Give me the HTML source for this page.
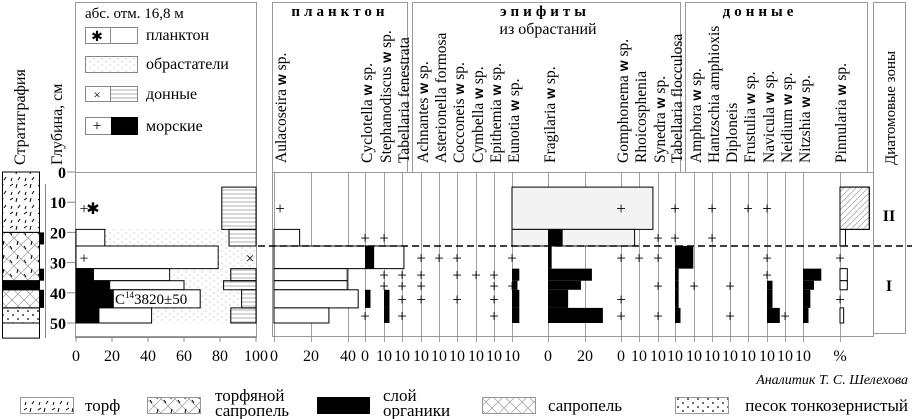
<!DOCTYPE html>
<html><head><meta charset="utf-8"><style>
html,body{margin:0;padding:0;background:#fff;}
svg{display:block;}
.g{stroke:#999;stroke-width:1;fill:none}
</style></head><body>
<svg id="chart" width="912" height="419" viewBox="0 0 912 419" xmlns="http://www.w3.org/2000/svg" font-family="Liberation Serif, serif">
<defs>
<pattern id="peat" width="14" height="14" patternUnits="userSpaceOnUse"><path d="M3 2l-1 4M10 4l3-2M6 9l-2 3M12 10l-1 3" stroke="#000" stroke-width="1"/></pattern>
<pattern id="cross" width="12" height="12" patternUnits="userSpaceOnUse"><path d="M0 0L12 12M12 0L0 12" stroke="#999" stroke-width="0.7"/></pattern>
<pattern id="peatsap" width="14" height="14" patternUnits="userSpaceOnUse"><path d="M0 0L14 14M14 0L0 14" stroke="#999" stroke-width="0.7"/><path d="M4 3l-1 4M10 8l2 3" stroke="#000" stroke-width="1"/></pattern>
<pattern id="sand" width="10" height="8" patternUnits="userSpaceOnUse"><circle cx="3" cy="3" r="0.9" fill="#000"/><circle cx="8" cy="7" r="0.9" fill="#000"/></pattern>
<pattern id="dots" width="8" height="6" patternUnits="userSpaceOnUse"><circle cx="2" cy="2" r="0.6" fill="#aaa"/><circle cx="6" cy="5" r="0.6" fill="#aaa"/></pattern>
<pattern id="hl" width="4" height="4" patternUnits="userSpaceOnUse"><path d="M0 2H4" stroke="#888" stroke-width="0.7"/></pattern>
<pattern id="diag" width="6" height="6" patternUnits="userSpaceOnUse"><path d="M0 6L6 0" stroke="#aaa" stroke-width="0.8"/></pattern>
</defs>

<text transform="translate(25,165) rotate(-90)" font-size="16">Стратиграфия</text>
<text transform="translate(62,165) rotate(-90)" font-size="16">Глубина, см</text>

<rect x="75.5" y="2.5" width="181" height="334" class="g"/>
<line x1="75" y1="172.5" x2="257" y2="172.5" class="g"/>
<text x="85" y="18" font-size="15">абс. отм. 16,8 м</text>
<g>
<rect x="85.5" y="27.5" width="52" height="16" fill="#fff" stroke="#888"/><line x1="110.5" y1="27" x2="110.5" y2="44" stroke="#888"/><text x="97" y="41" font-size="14" text-anchor="middle">✱</text>
<text x="146" y="40" font-size="16">планктон</text>
<rect x="85.5" y="56.5" width="52" height="16" fill="url(#dots)" stroke="#888"/>
<text x="146" y="69" font-size="16">обрастатели</text>
<rect x="85.5" y="86.5" width="52" height="15" fill="#fff" stroke="#888"/><rect x="110.5" y="86.5" width="27" height="15" fill="url(#hl)" stroke="#888"/><text x="97" y="99" font-size="13" text-anchor="middle">×</text>
<text x="146" y="99" font-size="16">донные</text>
<rect x="85.5" y="117.5" width="52" height="17" fill="#fff" stroke="#888"/><rect x="111" y="117" width="27" height="18" fill="#000"/><text x="97" y="131" font-size="16" text-anchor="middle">+</text>
<text x="146" y="131" font-size="16">морские</text>
</g>

<rect x="272.5" y="2.5" width="135" height="170" class="g"/>
<rect x="412.5" y="2.5" width="268" height="170" class="g"/>
<rect x="685.5" y="2.5" width="182" height="170" class="g"/>
<rect x="873.5" y="2.5" width="32" height="331" class="g"/>
<rect x="272.5" y="172.5" width="601" height="164" class="g"/>
<text x="340" y="16" font-size="15" font-weight="bold" text-anchor="middle" letter-spacing="4">планктон</text>
<text x="545" y="16" font-size="15" font-weight="bold" text-anchor="middle" letter-spacing="4">эпифиты</text>
<text x="548" y="34" font-size="16" text-anchor="middle">из обрастаний</text>
<text x="760" y="16" font-size="15" font-weight="bold" text-anchor="middle" letter-spacing="4">донные</text>
<text transform="translate(895,165) rotate(-90)" font-size="15">Диатомовые зоны</text>
<text x="889" y="221" font-size="16" font-weight="bold" text-anchor="middle">II</text>
<text x="889" y="291" font-size="16" font-weight="bold" text-anchor="middle">I</text>

<g id="grid"></g>
<g id="strat"></g>
<g id="left"></g>
<g id="marks"></g>
<g id="labels"></g>

<line x1="258" y1="246" x2="912" y2="246" stroke="#000" stroke-width="1.4" stroke-dasharray="7,4"/>

<text x="908" y="384" font-size="14" font-style="italic" text-anchor="end">Аналитик Т. С. Шелехова</text>
<g font-size="17">
<rect x="20.5" y="397.5" width="53" height="16" fill="url(#peat)" stroke="#999"/><text x="85" y="411">торф</text>
<rect x="147.5" y="397.5" width="53" height="16" fill="url(#peatsap)" stroke="#999"/><text x="215" y="401">торфяной</text><text x="215" y="416">сапропель</text>
<rect x="317" y="397" width="53" height="17" fill="#000"/><text x="383" y="401">слой</text><text x="383" y="416">органики</text>
<rect x="482.5" y="397.5" width="53" height="16" fill="url(#cross)" stroke="#999"/><text x="548" y="411">сапропель</text>
<rect x="675.5" y="397.5" width="53" height="16" fill="url(#sand)" stroke="#999"/><text x="908" y="411" text-anchor="end">песок  тонкозернистый</text>
</g>
</svg>
<script>
// ---- data ----
const rowEdges=[5,19,24.5,32,36,39,45,50];
const depthTicks=[0,10,20,30,40,50];
const leftTicks=[0,20,40,60,80,100];
const marine=[0,0,0,10,19,21,13];
const plankton=[0,16,79,42,41,48,29];
const epiphyte=[0,68,21,34,22,23,44];
const bottomGroup=[19,15,0,14,18,8,14];
const taxa=["Aulacoseira","Cyclotella","Stephanodiscus","Tabellaria fenestrata","Achnantes","Asterionella  formosa","Cocconeis","Cymbella","Epithemia","Eunotia","Fragilaria","Gomphonema","Rhoicosphenia","Synedra","Tabellaria flocculosa","Amphora","Hantzschia  amphioxis","Diploneis","Frustulia","Navicula","Neidium","Nitzshia","Pinnularia"];
const withSp=[1,1,1,0,1,0,1,1,1,1,1,1,0,1,0,1,0,0,1,1,1,1,1];
const aulacoseira=[0,14,71,40,40,46,30];
const eunotiaLight=[77,67,0,0,0,0,0];
const pinnularia=[16,3,0,4,4,0,2];
const cyclotellaB=[0,0,5,0,0,3,0];
const stephanB=[0,0,0,0,0,3,3];
const eunotiaB=[0,0,0,4,3,4,4];
const fragilariaB=[0,8,2,24,18,11,30];
const tabFloccB=[0,0,10,2,2,2,3];
const naviculaB=[0,0,0,0,3,3,7];
const nitzshiaB=[0,0,0,10,6,4,3];
const rare={0:[0],1:[1,6],2:[1,3,4],3:[3,4,5,6],4:[2,3,4,5],5:[2],6:[2,3,5],7:[3],8:[3,4,5,6],9:[2,4],11:[0,2,5,6],12:[2],13:[1,2,4,6],14:[0,1],15:[4],16:[0,1],17:[4,6],18:[0],19:[0,2,3],20:[6],22:[2,5]};
const bottomTickLabels=["0","20","40","0","10","10","10","10","10","10","10","10","0","20","0","10","10","10","10","10","10","10","10","10","10","%"];
// ---- layout ----
const base=[274,365,384,402,421,439,457,476,494,512,548,621,639,658,675,694,712,730,748,767,785,803,840];
const tickX=[274,311,348,365,384,402,421,439,457,476,494,512,548,585,621,639,658,675,694,712,730,748,767,785,803,840];
const S=1.83;
const y=d=>172+d*3.02;
const lx=p=>76+p*1.8;
const NS="http://www.w3.org/2000/svg";
function mk(tag,parent,attrs){const e=document.createElementNS(NS,tag);for(const k in attrs)e.setAttribute(k,attrs[k]);document.getElementById(parent).appendChild(e);return e;}
tickX.forEach((x,i)=>{
 const l=mk('line','grid',{x1:x+.5,y1:172,x2:x+.5,y2:342,stroke:'#888','stroke-width':0.8});
 
 
 const t=mk('text','grid',{x:x,y:361,'font-size':16,'text-anchor':'middle'});
 t.textContent=bottomTickLabels[i];
 
 
});
{const a=mk('line','grid',{x1:45.5,y1:y(4),x2:45.5,y2:338,stroke:'#888'});

}
depthTicks.forEach(d=>{
 const t=mk('text','grid',{x:66,y:y(d)+6,'font-size':16,'font-weight':'bold','text-anchor':'end'});t.textContent=d;
 
 
 mk('line','grid',{x1:67,y1:y(d),x2:76,y2:y(d),stroke:'#888'});
});
leftTicks.forEach(p=>{
 const t=mk('text','grid',{x:lx(p),y:361,'font-size':16,'text-anchor':'middle'});t.textContent=p;
 
 
 mk('line','grid',{x1:lx(p),y1:337,x2:lx(p),y2:342,stroke:'#888'});
});
mk('line','grid',{x1:75,y1:337.5,x2:257,y2:337.5,stroke:'#888'});
const strat=[[0,20,'url(#peat)'],[20,36,'url(#peatsap)'],[36,39,'#000'],[39,45,'url(#cross)'],[45,50,'url(#sand)'],[50,55,'#fff']];
strat.forEach(s=>{const r=mk('rect','strat',{x:2.5,y:y(s[0]),width:37,height:y(s[1])-y(s[0]),fill:s[2],stroke:'#000'});

});
[[20,24],[32,36],[39,45]].forEach(s=>mk('rect','strat',{x:40,y:y(s[0]),width:4,height:y(s[1])-y(s[0]),fill:'#000'}));
for(let i=0;i<7;i++){
 const y0=y(rowEdges[i]),h=y(rowEdges[i+1])-y0;
 const m=marine[i],p=m+plankton[i],e=p+epiphyte[i];
 if(plankton[i]>0){const r=mk('rect','left',{x:lx(0),y:y0,width:lx(p)-lx(0),height:h,fill:'#fff',stroke:'#000'});}
 if(m>0){const r=mk('rect','left',{x:lx(0),y:y0,width:lx(m)-lx(0),height:h,fill:'#000'});}
 if(epiphyte[i]>0){const r=mk('rect','left',{x:lx(p),y:y0,width:lx(e)-lx(p),height:h,fill:'url(#dots)'});}
 if(bottomGroup[i]>0){const r=mk('rect','left',{x:lx(100-bottomGroup[i]),y:y0,width:lx(100)-lx(100-bottomGroup[i]),height:h,fill:'url(#hl)',stroke:'#000'});}
}
[[84,12,'+'],[93,12,'✱'],[84,28.3,'+'],[250,28.3,'×']].forEach(a=>{const t=mk('text','left',{x:a[0],y:y(a[1])+6,'font-size':16,'text-anchor':'middle'});t.textContent=a[2];});
{const t=mk('text','left',{x:115,y:304,'font-size':15});t.innerHTML='C<tspan dy="-6" font-size="9">14</tspan><tspan dy="6">3820±50</tspan>';

}
function bars(ti,vals,fill,stroke,name){
 vals.forEach((v,i)=>{ if(v<=0)return;
  const y0=y(rowEdges[i]),h=y(rowEdges[i+1])-y0;
  const r=mk('rect','marks',{x:base[ti],y:y0,width:v*S,height:h,fill:fill});
  if(stroke)r.setAttribute('stroke',stroke);
  
  
 });
}
bars(9,eunotiaLight,'#f3f3f3','#000','epiphyte-total-bar');
bars(0,aulacoseira,'#fff','#000','aulacoseira-bar');
bars(22,pinnularia,'#fff','#000','pinnularia-bar');
{const y0=y(rowEdges[0]);mk('rect','marks',{x:base[22],y:y0,width:pinnularia[0]*S,height:y(rowEdges[1])-y0,fill:'url(#diag)',stroke:'#000'});}
bars(1,cyclotellaB,'#000',null,'cyclotella-bar');
bars(2,stephanB,'#000',null,'stephanodiscus-bar');
bars(9,eunotiaB,'#000',null,'eunotia-bar');
bars(10,fragilariaB,'#000',null,'fragilaria-bar');
bars(14,tabFloccB,'#000',null,'tabellaria-flocculosa-bar');
bars(19,naviculaB,'#000',null,'navicula-bar');
bars(21,nitzshiaB,'#000',null,'nitzshia-bar');
Object.keys(rare).forEach(k=>{rare[k].forEach(i=>{
 const d=(rowEdges[i]+rowEdges[i+1])/2;
 const x=k==0?base[0]+6:base[k];
 const t=mk('text','marks',{x:x,y:y(d)+6,'font-size':17,'text-anchor':'middle'});t.textContent='+';
 
 
});});
taxa.forEach((n,i)=>{
 const x=base[i]+(i==0?6:(i==22?0:1));
 const t=mk('text','labels',{transform:'translate('+(x+6)+',163) rotate(-90)','font-size':15.5});
 t.innerHTML=n+(withSp[i]?' <tspan font-family="Liberation Sans, sans-serif" font-weight="bold" font-size="14">w</tspan> sp.':'');
 
 
});
</script>
</body></html>
